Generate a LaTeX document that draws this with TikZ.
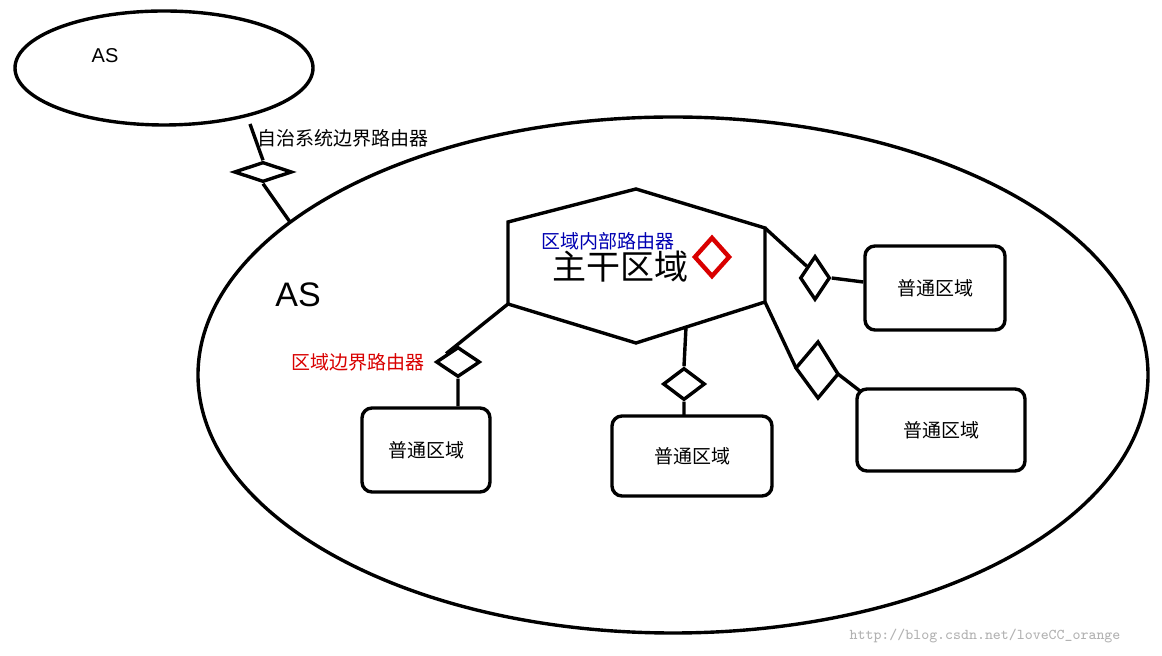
\documentclass[tikz,border=0pt]{standalone}
\usepackage{fontspec}
\setmainfont{Liberation Sans}
\newfontfamily\cjk{Noto Sans CJK SC}
\usetikzlibrary{shapes.geometric}
\begin{document}
\begin{tikzpicture}[x=0.5pt,y=-0.5pt,line width=1.7pt,
  box/.style={draw,rounded corners=5pt,font=\cjk\fontsize{9.5}{11}\selectfont},
  lbl/.style={font=\cjk\fontsize{9.5}{11}\selectfont,inner sep=0pt}]
\fill[white] (0,0) rectangle (1162,656);
\useasboundingbox (0,0) rectangle (1162,656);
\node[ellipse,draw,minimum width=149pt,minimum height=57pt] (as1) at (164,68) {};
\node[ellipse,draw,minimum width=475pt,minimum height=258pt] (as2) at (673,375) {};
\node[font=\fontsize{10}{12}\selectfont] (t1) at (105,56) {AS};
\node[font=\fontsize{17}{20}\selectfont] (t2) at (298,295) {AS};
% AS border router
\node[diamond,draw,inner sep=0pt,minimum width=29pt,minimum height=10pt] (d0) at (263,172) {};
\draw (250,124) -- (d0.north) (d0.south) -- (290,222);
\node[lbl] (l0) at (343,138) {自治系统边界路由器};
% hexagon
\coordinate (h1) at (508,222); \coordinate (h2) at (636,189); \coordinate (h3) at (765,228);
\coordinate (h4) at (765,302); \coordinate (h5) at (636,343); \coordinate (h6) at (508,304);
\draw (h1)--(h2)--(h3)--(h4)--(h5)--(h6)--cycle;
\node[font=\cjk\fontsize{17}{20}\selectfont] (bb) at (620,267) {主干区域};
\node[lbl,text=blue!70!black] (l1) at (608,241) {区域内部路由器};
\node[diamond,draw=red!85!black,line width=2.2pt,inner sep=0pt,minimum width=18pt,minimum height=20pt] (dr) at (712,257) {};
% left lower
\node[diamond,draw,inner sep=0pt,minimum width=22pt,minimum height=15pt] (d1) at (458,362) {};
\node[box,minimum width=64pt,minimum height=42pt] (b1) at (426,450) {普通区域};
\draw (h6) -- (d1.north west) (d1.south) -- (b1.north -| d1.south);
\node[lbl,text=red!85!black] (l2) at (358,362) {区域边界路由器};
% middle
\node[diamond,draw,inner sep=0pt,minimum width=21pt,minimum height=16pt] (d2) at (684,384) {};
\node[box,minimum width=80pt,minimum height=40pt] (b2) at (692,456) {普通区域};
\draw (686,327) -- (d2.north) (d2.south) -- (684,416);
% right upper
\node[diamond,draw,inner sep=0pt,minimum width=15pt,minimum height=22pt] (d3) at (815,278) {};
\node[box,minimum width=70pt,minimum height=42pt] (b3) at (935,288) {普通区域};
\draw (h3) -- (d3.north west) (d3.east) -- (b3.west |- 0,282);
% right lower
\coordinate (d4t) at (818,342); \coordinate (d4r) at (838,374);
\coordinate (d4b) at (818,398); \coordinate (d4l) at (796,368);
\draw (d4t)--(d4r)--(d4b)--(d4l)--cycle;
\node[box,minimum width=84pt,minimum height=41pt] (b4) at (941,430) {普通区域};
\draw (h4) -- (d4l) (d4r) -- (860,391);
\node[font=\ttfamily\fontsize{7.5}{9}\selectfont,text=gray!60] (wm) at (985,636) {http://blog.csdn.net/loveCC\_orange};
\end{tikzpicture}
\end{document}
